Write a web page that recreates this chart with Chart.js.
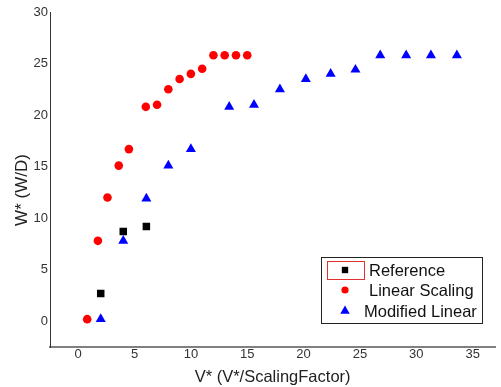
<!DOCTYPE html>
<html>
<head>
<meta charset="utf-8">
<script src="https://cdn.jsdelivr.net/npm/chart.js@4"></script>
<style>
  body { margin: 0; background: #fff; }
  #wrap { width: 501px; height: 387px; }
</style>
</head>
<body>
<div id="wrap"><canvas id="myChart" width="501" height="387"></canvas></div>
<script>
// data
const seriesNames = ['Reference', 'Linear Scaling', 'Modified Linear'];
const refX = [2.0, 4.0, 6.05];
const refY = [2.7, 8.7, 9.2];
const linX = [0.8, 1.75, 2.6, 3.6, 4.5, 6.0, 7.0, 8.0, 9.0, 10.0, 11.0, 12.0, 13.0, 14.0, 15.0];
const linY = [0.2, 7.8, 12.0, 15.1, 16.7, 20.8, 21.0, 22.5, 23.5, 24.0, 24.5, 25.8, 25.8, 25.8, 25.8];
const modX = [2.0, 4.0, 6.05, 8.0, 10.0, 13.4, 15.6, 17.9, 20.2, 22.4, 24.6, 26.8, 29.1, 31.3, 33.6];
const modY = [0.2, 7.8, 11.9, 15.1, 16.7, 20.8, 21.0, 22.5, 23.5, 24.0, 24.4, 25.8, 25.8, 25.8, 25.8];
const xTicks = [0, 5, 10, 15, 20, 25, 30, 35];
const yTicks = [0, 5, 10, 15, 20, 25, 30];
const yTitle = 'W* (W/D)';

function toPoints(xs, ys) {
    return xs.map((x, i) => ({x: x, y: ys[i]}));
}

// y title sits a bit below the middle in the original, so draw it here
const yTitlePlugin = {
    id: 'yTitlePlugin',
    afterDraw(chart) {
        const ctx = chart.ctx;
        ctx.save();
        ctx.translate(22, 190);
        ctx.rotate(-Math.PI / 2);
        ctx.fillStyle = '#222';
        ctx.font = '17px Arial, "Liberation Sans", sans-serif';
        ctx.textAlign = 'center';
        ctx.textBaseline = 'middle';
        ctx.fillText(yTitle, 0, 0);
        ctx.restore();
    }
};

// legend drawn inside the plot, like the original
const boxLegend = {
    id: 'boxLegend',
    afterDraw(chart) {
        const ctx = chart.ctx;
        const left = 321, top = 257, w = 161, h = 66;
        ctx.save();
        ctx.fillStyle = '#fff';
        ctx.fillRect(left, top, w, h);
        ctx.strokeStyle = '#222';
        ctx.lineWidth = 1;
        ctx.strokeRect(left + 0.5, top + 0.5, w, h);
        // red highlight round the first marker
        ctx.strokeStyle = '#e03030';
        ctx.strokeRect(327.5, 261.5, 37, 18);

        const rows = [270, 290, 311];
        const textX = [369, 369, 364];
        chart.data.datasets.forEach((ds, i) => {
            ctx.fillStyle = ds.pointBackgroundColor;
            ctx.strokeStyle = ds.pointBackgroundColor;
            Chart.helpers.drawPoint(ctx, {
                pointStyle: ds.pointStyle,
                radius: ds.legendRadius,
                rotation: 0,
                borderWidth: 0
            }, 345, rows[i]);
            ctx.fillStyle = '#111';
            ctx.font = '16.5px Arial, "Liberation Sans", sans-serif';
            ctx.textBaseline = 'middle';
            ctx.textAlign = 'left';
            ctx.fillText(ds.label, textX[i], rows[i] + 1);
        });
        ctx.restore();
    }
};

const ctx = document.getElementById('myChart');
new Chart(ctx, {
    type: 'scatter',
    data: {
        datasets: [{
            label: seriesNames[0],
            data: toPoints(refX, refY),
            pointStyle: 'rect',
            pointRadius: 5.3,
            legendRadius: 4.5,
            pointBackgroundColor: '#000',
            pointBorderColor: '#000',
            pointBorderWidth: 0
        }, {
            label: seriesNames[1],
            data: toPoints(linX, linY),
            pointStyle: 'circle',
            pointRadius: 4.3,
            legendRadius: 3.6,
            pointBackgroundColor: '#ff0000',
            pointBorderColor: '#ff0000',
            pointBorderWidth: 0
        }, {
            label: seriesNames[2],
            data: toPoints(modX, modY),
            pointStyle: 'triangle',
            pointRadius: 5.8,
            legendRadius: 5.5,
            pointBackgroundColor: '#0000ff',
            pointBorderColor: '#0000ff',
            pointBorderWidth: 0
        }]
    },
    options: {
        responsive: false,
        animation: false,
        layout: { padding: { top: 12, right: 0, left: 0, bottom: 0 } },
        plugins: {
            legend: { display: false },
            tooltip: { enabled: false }
        },
        scales: {
            x: {
                type: 'linear',
                min: -2.5,
                max: 37,
                afterBuildTicks: axis => { axis.ticks = xTicks.map(v => ({value: v})); },
                afterFit: axis => { axis.height = 40; },
                grid: { display: false, drawTicks: false },
                border: { display: true, color: '#808080', width: 2 },
                ticks: {
                    color: '#333',
                    padding: 0,
                    font: { size: 13, family: 'Arial, "Liberation Sans", sans-serif' }
                },
                title: {
                    display: true,
                    text: 'V* (V*/ScalingFactor)',
                    color: '#222',
                    padding: { top: 0, bottom: 0 },
                    font: { size: 16.5, family: 'Arial, "Liberation Sans", sans-serif' }
                }
            },
            y: {
                type: 'linear',
                min: -2.5,
                max: 30,
                afterBuildTicks: axis => { axis.ticks = yTicks.map(v => ({value: v})); },
                afterFit: axis => { axis.width = 50; },
                grid: { display: false, drawTicks: false },
                border: { display: true, color: '#333', width: 1 },
                ticks: {
                    color: '#333',
                    padding: 2,
                    font: { size: 13, family: 'Arial, "Liberation Sans", sans-serif' }
                },
                title: { display: false }
            }
        }
    },
    plugins: [yTitlePlugin, boxLegend]
});
</script>
</body>
</html>
